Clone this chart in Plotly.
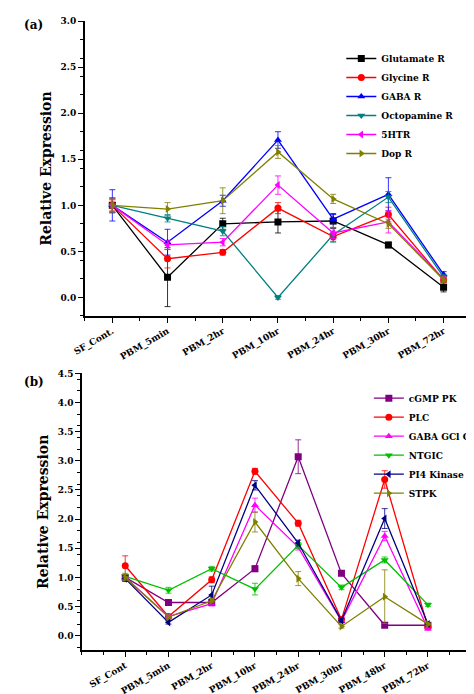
import plotly.graph_objects as go

cats_a = ["SF_Cont.", "PBM_5min", "PBM_2hr", "PBM_10hr", "PBM_24hr", "PBM_30hr", "PBM_72hr"]
glutamate = [1.0, 0.22, 0.80, 0.82, 0.83, 0.57, 0.11]
glutamate_err = [0.08, 0.32, 0.06, 0.12, 0.08, 0.03, 0.05]
glycine = [1.0, 0.42, 0.49, 0.97, 0.66, 0.90, 0.19]
glycine_err = [0.06, 0.10, 0.03, 0.06, 0.05, 0.08, 0.03]
gaba = [1.0, 0.60, 1.05, 1.71, 0.85, 1.12, 0.25]
gaba_err = [0.17, 0.14, 0.06, 0.09, 0.05, 0.18, 0.03]
octopamine = [1.0, 0.86, 0.72, 0.0, 0.68, 1.09, 0.22]
octopamine_err = [0.08, 0.04, 0.05, 0.02, 0.08, 0.06, 0.03]
htr5 = [1.0, 0.57, 0.60, 1.22, 0.70, 0.82, 0.20]
htr5_err = [0.07, 0.05, 0.04, 0.10, 0.06, 0.12, 0.03]
dop = [1.0, 0.96, 1.05, 1.58, 1.07, 0.80, 0.19]
dop_err = [0.07, 0.07, 0.14, 0.07, 0.05, 0.05, 0.03]

cats_b = ["SF_Cont", "PBM_5min", "PBM_2hr", "PBM_10hr", "PBM_24hr", "PBM_30hr", "PBM_48hr", "PBM_72hr"]
cgmp = [1.0, 0.57, 0.57, 1.15, 3.07, 1.07, 0.18, 0.18]
cgmp_err = [0.05, 0.03, 0.03, 0.05, 0.29, 0.04, 0.02, 0.02]
plc = [1.20, 0.33, 0.96, 2.82, 1.93, 0.28, 2.68, 0.15]
plc_err = [0.17, 0.03, 0.05, 0.05, 0.05, 0.03, 0.15, 0.02]
gabagcl = [1.0, 0.33, 0.55, 2.24, 1.52, 0.25, 1.71, 0.12]
gabagcl_err = [0.05, 0.04, 0.04, 0.12, 0.05, 0.03, 0.08, 0.02]
ntgic = [1.02, 0.78, 1.15, 0.80, 1.55, 0.83, 1.30, 0.53]
ntgic_err = [0.05, 0.05, 0.04, 0.10, 0.05, 0.04, 0.05, 0.03]
pi4 = [0.98, 0.23, 0.70, 2.58, 1.59, 0.26, 2.01, 0.20]
pi4_err = [0.05, 0.03, 0.15, 0.08, 0.05, 0.03, 0.17, 0.02]
stpk = [1.0, 0.32, 0.60, 1.95, 0.98, 0.16, 0.67, 0.20]
stpk_err = [0.05, 0.03, 0.04, 0.17, 0.12, 0.03, 0.46, 0.02]

FONT = "DejaVu Serif"
fig = go.Figure()

def add(xc, y, err, name, color, sym, xa, ya, leg):
    fig.add_trace(go.Scatter(
        x=list(range(len(xc))), y=y, name="<b>" + name + "</b>", mode="lines+markers",
        line=dict(color=color, width=1.3), marker=dict(symbol=sym, size=7, color=color),
        error_y=dict(type="data", array=err, color=color, thickness=0.8, width=3),
        xaxis=xa, yaxis=ya, legend=leg))

sa = [(glutamate, glutamate_err, "Glutamate R", "#000000", "square"),
      (glycine, glycine_err, "Glycine R", "#ff0000", "circle"),
      (gaba, gaba_err, "GABA R", "#0000ff", "triangle-up"),
      (octopamine, octopamine_err, "Octopamine R", "#008080", "triangle-down"),
      (htr5, htr5_err, "5HTR", "#ff00ff", "triangle-left"),
      (dop, dop_err, "Dop R", "#808000", "triangle-right")]
for y, e, n, c, s in sa:
    add(cats_a, y, e, n, c, s, "x", "y", "legend")

sb = [(cgmp, cgmp_err, "cGMP PK", "#800080", "square"),
      (plc, plc_err, "PLC", "#ff0000", "circle"),
      (gabagcl, gabagcl_err, "GABA GCl Ch", "#ff00ff", "triangle-up"),
      (ntgic, ntgic_err, "NTGIC", "#00c000", "triangle-down"),
      (pi4, pi4_err, "PI4 Kinase", "#000080", "triangle-left"),
      (stpk, stpk_err, "STPK", "#808000", "triangle-right")]
for y, e, n, c, s in sb:
    add(cats_b, y, e, n, c, s, "x2", "y2", "legend2")

axcommon = dict(showline=True, linecolor="black", linewidth=1.5, ticks="outside",
                ticklen=5, tickcolor="black", showgrid=False, zeroline=False,
                tickfont=dict(family=FONT, size=9, color="black"),
                minor=dict(ticks="outside", ticklen=3, tickcolor="black"))

def bold(lst):
    return ["<b>" + t + "</b>" for t in lst]

ya_vals = [i * 0.5 for i in range(7)]
yb_vals = [i * 0.5 for i in range(10)]

fig.update_layout(
    width=474, height=694, margin=dict(l=0, r=0, t=0, b=0),
    plot_bgcolor="white", paper_bgcolor="white",
    font=dict(family=FONT, color="black"),
    xaxis=dict(domain=[0.141, 0.983], anchor="y", range=[-0.5, 6.5],
               tickvals=list(range(len(cats_a))), ticktext=bold(cats_a), tickangle=-30, **axcommon),
    yaxis=dict(domain=[0.5605, 0.988], anchor="x", range=[-0.2, 3.0],
               tickvals=ya_vals, ticktext=bold([f"{v:.1f}" for v in ya_vals]),
               title=dict(text="<b>Relative Expression</b>", font=dict(family=FONT, size=14), standoff=6),
               **axcommon),
    xaxis2=dict(domain=[0.135, 0.983], anchor="y2", range=[-1, 8],
                tickvals=list(range(len(cats_b))), ticktext=bold(cats_b), tickangle=-30, **axcommon),
    yaxis2=dict(domain=[0.075, 0.477], anchor="x2", range=[-0.25, 4.5],
                tickvals=yb_vals, ticktext=bold([f"{v:.1f}" for v in yb_vals]),
                title=dict(text="<b>Relative Expression</b>", font=dict(family=FONT, size=14), standoff=6),
                **axcommon),
    legend=dict(x=0.70, y=0.955, xanchor="left", yanchor="top", bgcolor="rgba(0,0,0,0)",
                font=dict(family=FONT, size=9), tracegroupgap=0, itemwidth=30),
    legend2=dict(x=0.76, y=0.462, xanchor="left", yanchor="top", bgcolor="rgba(0,0,0,0)",
                 font=dict(family=FONT, size=9), tracegroupgap=0, itemwidth=30),
    annotations=[
        dict(text="<b>(a)</b>", x=0.005, y=0.995, xref="paper", yref="paper", showarrow=False,
             xanchor="left", yanchor="top", font=dict(family=FONT, size=12)),
        dict(text="<b>(b)</b>", x=0.005, y=0.478, xref="paper", yref="paper", showarrow=False,
             xanchor="left", yanchor="top", font=dict(family=FONT, size=12)),
    ],
)
fig.write_html("out.html")
